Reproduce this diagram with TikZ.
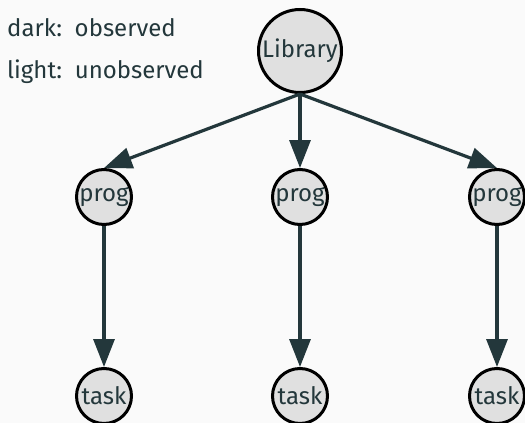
\documentclass[tikz,border=0pt]{standalone}
\usepackage{fontspec}
\setmainfont{Fira Sans}
\usetikzlibrary{arrows.meta}
\definecolor{mDark}{HTML}{23373B}
\definecolor{mBg}{HTML}{FAFAFA}
\definecolor{mFill}{HTML}{E0E0E0}
\begin{document}
\begin{tikzpicture}[x=1pt,y=-1pt,
  every node/.style={font=\fontsize{24}{29}\selectfont, text=mDark},
  bignode/.style={circle, draw=black, fill=mFill, line width=3pt, inner sep=0pt, minimum size=83pt},
  smallnode/.style={circle, draw=black, fill=mFill, line width=3pt, inner sep=0pt, minimum size=55pt},
  legend/.style={anchor=base west, inner sep=0pt},
  conn/.style={draw=mDark, line width=3.2pt, -{Triangle[length=28pt,width=21pt]}}]
\fill[mBg] (0,0) rectangle (525,423);
\useasboundingbox (0,0) rectangle (525,423);
\node[legend] (l1) at (7,36) {dark:\ \ observed};
\node[legend] (l2) at (7,78) {light:\ \ unobserved};
\node[bignode] (lib) at (300,51) {Library};
\node[smallnode] (p1) at (104,197) {prog};
\node[smallnode] (p2) at (300,197) {prog};
\node[smallnode] (p3) at (497,197) {prog};
\node[smallnode] (t1) at (104,396) {task};
\node[smallnode] (t2) at (300,396) {task};
\node[smallnode] (t3) at (497,396) {task};
\draw[conn] (lib.south) -- (p1.north);
\draw[conn] (lib.south) -- (p2.north);
\draw[conn] (lib.south) -- (p3.north);
\draw[conn] (p1.south) -- (t1.north);
\draw[conn] (p2.south) -- (t2.north);
\draw[conn] (p3.south) -- (t3.north);
\end{tikzpicture}
\end{document}
